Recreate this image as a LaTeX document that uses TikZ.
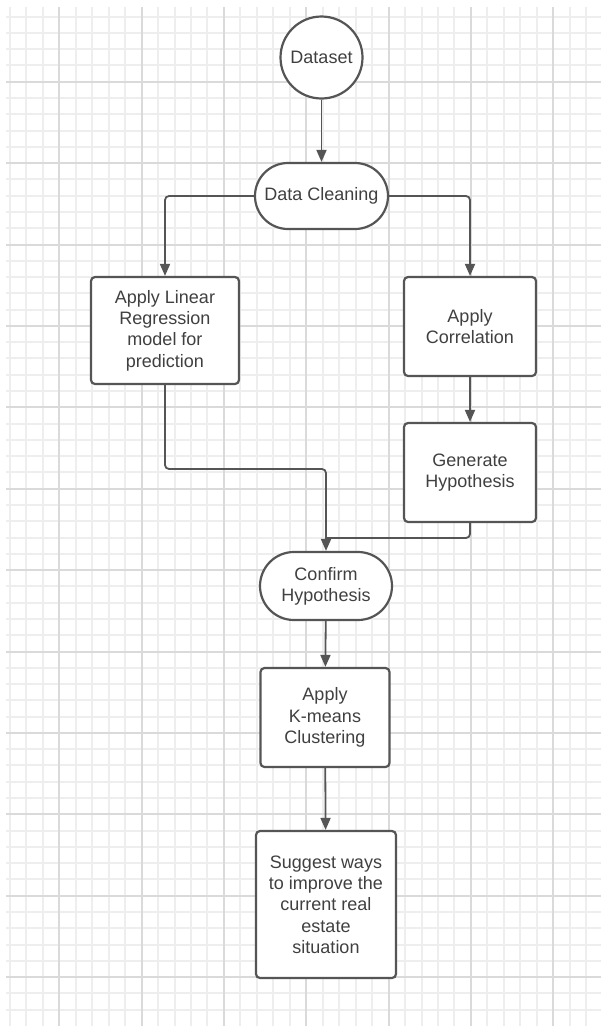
\documentclass[tikz,border=0pt]{standalone}
\usepackage{fontspec}
\setmainfont{Liberation Sans}
\usetikzlibrary{arrows.meta,calc}
\definecolor{lineC}{HTML}{555555}
\definecolor{textC}{HTML}{404040}
\definecolor{gridMinor}{HTML}{EEEEEE}
\definecolor{gridMajor}{HTML}{DADADA}
\tikzset{
  base/.style={draw=lineC, line width=2.2pt, fill=white, text=textC, align=center,
    font=\fontsize{18}{21.3}\selectfont, inner sep=0pt},
  boxnode/.style={base, rectangle, rounded corners=4pt},
  termnode/.style={base, rectangle},
  circnode/.style={base, circle},
  conn/.style={draw=lineC, line width=1.8pt, rounded corners=4pt},
  arr/.style={conn, -{Triangle[width=10pt,length=12pt]}},
  gminor/.style={draw=gridMinor, line width=2pt},
  gmajor/.style={draw=gridMajor, line width=2pt},
}
\begin{document}
\begin{tikzpicture}[x=1pt,y=-1pt]
\useasboundingbox (0,0) rectangle (601,1026);
\fill[white] (0,0) rectangle (601,1026);
% grid: minor first, then major on top
\foreach \i in {0,...,35}{
  \pgfmathtruncatemacro\xx{round(9.8+\i*16.47)}
  \pgfmathtruncatemacro\m{mod(\i+2,5)}
  \ifnum\m>0 \draw[gminor] (\xx,7) -- (\xx,1026);\fi
}
\foreach \j in {0,...,61}{
  \pgfmathtruncatemacro\yy{round(16.6+\j*16.28)}
  \pgfmathtruncatemacro\m{mod(\j+1,5)}
  \ifnum\m>0 \draw[gminor] (6,\yy) -- (601,\yy);\fi
}
\foreach \i in {0,...,35}{
  \pgfmathtruncatemacro\xx{round(9.8+\i*16.47)}
  \pgfmathtruncatemacro\m{mod(\i+2,5)}
  \ifnum\m=0 \draw[gmajor] (\xx,7) -- (\xx,1026);\fi
}
\foreach \j in {0,...,61}{
  \pgfmathtruncatemacro\yy{round(16.6+\j*16.28)}
  \pgfmathtruncatemacro\m{mod(\j+1,5)}
  \ifnum\m=0 \draw[gmajor] (6,\yy) -- (601,\yy);\fi
}
% nodes
\node[circnode, minimum size=82pt] (ds) at (321.5,57.5) {Dataset};
\node[termnode, minimum width=133pt, minimum height=66pt, rounded corners=33pt] (clean) at (321.5,196) {Data Cleaning};
\node[boxnode, minimum width=148pt, minimum height=107pt] (lr) at (165,330.5) {Apply Linear\\Regression\\model for\\prediction};
\node[boxnode, minimum width=132pt, minimum height=99pt] (corr) at (470,326.5) {Apply\\Correlation};
\node[boxnode, minimum width=132pt, minimum height=99pt] (gen) at (470,472.5) {Generate\\Hypothesis};
\node[termnode, minimum width=132pt, minimum height=68pt, rounded corners=34pt] (conf) at (326,586) {Confirm\\Hypothesis};
\node[boxnode, minimum width=129pt, minimum height=99pt] (km) at (325,717.5) {Apply\\K-means\\Clustering};
\node[boxnode, minimum width=140pt, minimum height=147pt] (sug) at (326,904.5) {Suggest ways\\to improve the\\current real\\estate\\situation};
\coordinate (j1) at (326,469);
\coordinate (j2) at (326,538);
% connectors
\draw[arr] (ds) -- (clean);
\draw[arr] (clean.west) -| (lr.north);
\draw[arr] (clean.east) -| (corr.north);
\draw[arr] (corr) -- (gen);
\draw[arr] (lr.south) |- (j1) -- (conf.north);
\draw[conn] (gen.south) |- (j2);
\draw[arr] (conf) -- (km);
\draw[arr] (km) -- (sug);
\end{tikzpicture}
\end{document}
